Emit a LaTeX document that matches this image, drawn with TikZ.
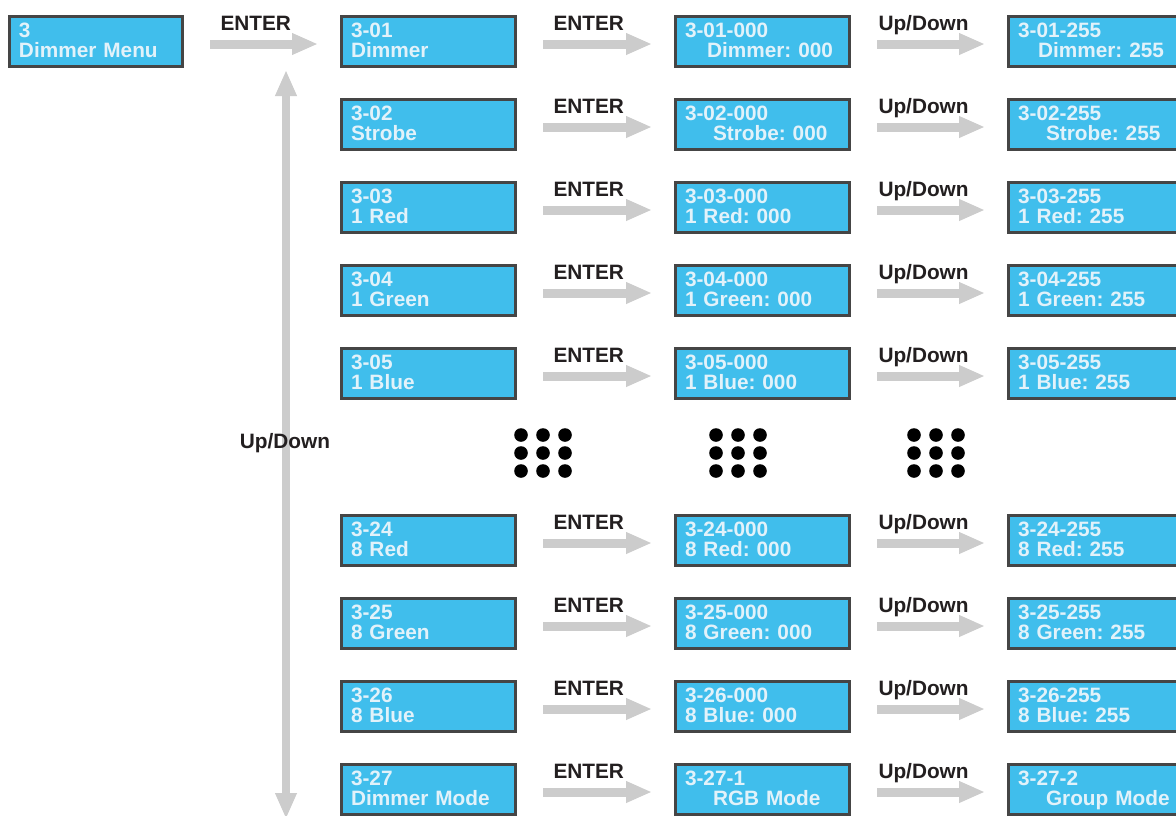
\documentclass[tikz,border=0pt]{standalone}
\usepackage{fontspec}
\setmainfont{Liberation Sans}
\usetikzlibrary{arrows.meta}
\frenchspacing
\definecolor{lcdfill}{HTML}{40BEEC}
\definecolor{lcdedge}{HTML}{454545}
\definecolor{lcdtext}{HTML}{E2F2FA}
\definecolor{arrowgray}{HTML}{CCCCCC}
\definecolor{labeltext}{HTML}{231F20}
\tikzset{
  lcd/.style={draw=lcdedge, line width=3pt, fill=lcdfill, rectangle,
    minimum width=174pt, minimum height=50pt, anchor=north west,
    text width=155pt, inner xsep=9.5pt, inner ysep=0pt, align=left,
    text=lcdtext, font=\bfseries\fontsize{20.8}{20}\selectfont},
  fatarrow/.style={draw=arrowgray, line width=9pt,
    -{Triangle[length=26pt,width=20pt]}},
  vfat/.style={draw=arrowgray, line width=8pt,
    {Triangle[length=26pt,width=20pt]}-{Triangle[length=26pt,width=20pt]}},
  lbl/.style={text=labeltext, font=\bfseries\fontsize{20.8}{20}\selectfont,
    inner sep=0pt},
  dot/.style={fill=black}
}
\newcommand{\lcdtxt}[2]{\rule{0pt}{16pt}#1\\#2\rule[-5pt]{0pt}{5pt}}
\begin{document}
\begin{tikzpicture}[x=1pt,y=-1pt]
\path[use as bounding box] (0,0) rectangle (1176,815);
\clip (0,0) rectangle (1176,815);
\fill[white] (0,0) rectangle (1176,815);

% vertical arrow first (under label)
\coordinate (vtop) at (286,70);
\coordinate (vbot) at (286,819);
\draw[vfat] (vtop) -- (vbot);
\node[lbl, anchor=base] (udmid) at (285,448) {Up/Down};

% main menu box
\node[lcd, minimum width=173pt, text width=154pt] (m3) at (8,15) {\lcdtxt{3}{Dimmer Menu}};

% rows
\node[lcd] (a1) at (340,15) {\lcdtxt{3-01}{Dimmer}};
\node[lcd] (b1) at (674,15) {\lcdtxt{3-01-000}{\hspace*{22pt}Dimmer: 000}};
\node[lcd] (c1) at (1007,15) {\lcdtxt{3-01-255}{\hspace*{20pt}Dimmer: 255}};

\node[lcd] (a2) at (340,98) {\lcdtxt{3-02}{Strobe}};
\node[lcd] (b2) at (674,98) {\lcdtxt{3-02-000}{\hspace*{28pt}Strobe: 000}};
\node[lcd] (c2) at (1007,98) {\lcdtxt{3-02-255}{\hspace*{28pt}Strobe: 255}};

\node[lcd] (a3) at (340,181) {\lcdtxt{3-03}{1 Red}};
\node[lcd] (b3) at (674,181) {\lcdtxt{3-03-000}{1 Red: 000}};
\node[lcd] (c3) at (1007,181) {\lcdtxt{3-03-255}{1 Red: 255}};

\node[lcd] (a4) at (340,264) {\lcdtxt{3-04}{1 Green}};
\node[lcd] (b4) at (674,264) {\lcdtxt{3-04-000}{1 Green: 000}};
\node[lcd] (c4) at (1007,264) {\lcdtxt{3-04-255}{1 Green: 255}};

\node[lcd] (a5) at (340,347) {\lcdtxt{3-05}{1 Blue}};
\node[lcd] (b5) at (674,347) {\lcdtxt{3-05-000}{1 Blue: 000}};
\node[lcd] (c5) at (1007,347) {\lcdtxt{3-05-255}{1 Blue: 255}};

\node[lcd] (a6) at (340,514) {\lcdtxt{3-24}{8 Red}};
\node[lcd] (b6) at (674,514) {\lcdtxt{3-24-000}{8 Red: 000}};
\node[lcd] (c6) at (1007,514) {\lcdtxt{3-24-255}{8 Red: 255}};

\node[lcd] (a7) at (340,597) {\lcdtxt{3-25}{8 Green}};
\node[lcd] (b7) at (674,597) {\lcdtxt{3-25-000}{8 Green: 000}};
\node[lcd] (c7) at (1007,597) {\lcdtxt{3-25-255}{8 Green: 255}};

\node[lcd] (a8) at (340,680) {\lcdtxt{3-26}{8 Blue}};
\node[lcd] (b8) at (674,680) {\lcdtxt{3-26-000}{8 Blue: 000}};
\node[lcd] (c8) at (1007,680) {\lcdtxt{3-26-255}{8 Blue: 255}};

\node[lcd] (a9) at (340,763) {\lcdtxt{3-27}{Dimmer Mode}};
\node[lcd] (b9) at (674,763) {\lcdtxt{3-27-1}{\hspace*{28pt}RGB Mode}};
\node[lcd] (c9) at (1007,763) {\lcdtxt{3-27-2}{\hspace*{28pt}Group Mode}};

% first arrow
\draw[fatarrow] ([xshift=26pt,yshift=-2.5pt]m3.east) -- ([xshift=-22pt,yshift=-2.5pt]a1.west)
  node[lbl, pos=0, anchor=base west, xshift=6pt, yshift=14pt] (ent0) {ENTER};

% row arrows
\foreach \r in {1,...,9}{
  \draw[fatarrow] ([xshift=26pt,yshift=-2.5pt]a\r.east) -- ([xshift=-22pt,yshift=-2.5pt]b\r.west)
    node[lbl, pos=0, anchor=base west, xshift=6pt, yshift=14pt] (ent\r) {ENTER};
  \draw[fatarrow] ([xshift=26pt,yshift=-2.5pt]b\r.east) -- ([xshift=-22pt,yshift=-2.5pt]c\r.west)
    node[lbl, pos=0, anchor=base west, xshift=-3pt, yshift=14pt] (ud\r) {Up/Down};
}

% dots
\foreach \cx in {543,738,936}{
  \foreach \dx in {-22,0,22}{
    \foreach \yy in {435,453,471}{
      \fill[dot] (\cx+\dx,\yy) circle[radius=6.8pt];
    }
  }
}
\end{tikzpicture}
\end{document}
